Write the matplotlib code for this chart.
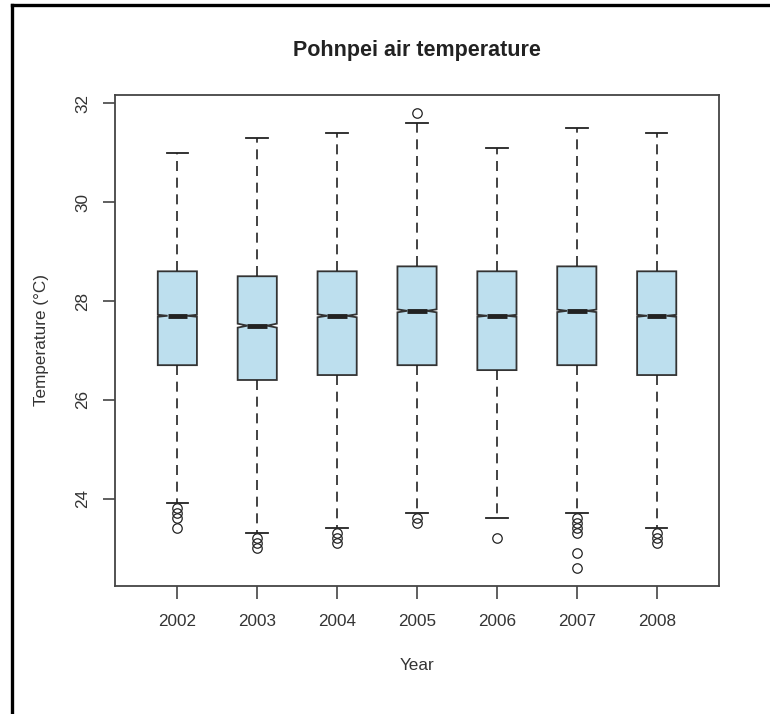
import matplotlib
matplotlib.use("Agg")
import matplotlib.pyplot as plt
from matplotlib.lines import Line2D

years = ["2002", "2003", "2004", "2005", "2006", "2007", "2008"]
q1 = [26.7, 26.4, 26.5, 26.7, 26.6, 26.7, 26.5]
medians = [27.7, 27.5, 27.7, 27.8, 27.7, 27.8, 27.7]
q3 = [28.6, 28.5, 28.6, 28.7, 28.6, 28.7, 28.6]
whisk_lo = [23.9, 23.3, 23.4, 23.7, 23.6, 23.7, 23.4]
whisk_hi = [31.0, 31.3, 31.4, 31.6, 31.1, 31.5, 31.4]
notch_half = [0.02, 0.04, 0.03, 0.03, 0.02, 0.025, 0.02]
outliers = [
    [23.8, 23.7, 23.6, 23.4],
    [23.2, 23.1, 23.0],
    [23.3, 23.2, 23.1],
    [31.8, 23.6, 23.5],
    [23.2],
    [23.6, 23.5, 23.4, 23.3, 22.9, 22.6],
    [23.3, 23.2, 23.1],
]

plt.rcParams['font.family'] = ['Liberation Sans', 'DejaVu Sans']

fig = plt.figure(figsize=(7.7, 7.14), dpi=100)
ax = fig.add_axes([0.1494, 0.1793, 0.7844, 0.6877])

stats = []
for i in range(len(years)):
    stats.append(dict(med=medians[i], q1=q1[i], q3=q3[i],
                      whislo=whisk_lo[i], whishi=whisk_hi[i],
                      cilo=medians[i] - notch_half[i], cihi=medians[i] + notch_half[i],
                      fliers=outliers[i], label=years[i]))

edge = '#333333'
positions = list(range(1, len(years) + 1))
ax.bxp(stats, positions=positions, widths=0.49, shownotches=True, patch_artist=True,
       capwidths=0.27,
       boxprops=dict(facecolor='#BDDFEE', edgecolor=edge, linewidth=1.3),
       medianprops=dict(color='#222222', linewidth=3.5, solid_capstyle='butt'),
       whiskerprops=dict(color='#222222', linewidth=1.2, linestyle=(0, (6, 4))),
       capprops=dict(color='#222222', linewidth=1.3),
       flierprops=dict(marker='o', markerfacecolor='none', markeredgecolor='#222222',
                       markersize=6.8, markeredgewidth=0.9))

ax.set_xlim(0.22, 7.78)
ax.set_ylim(22.23, 32.17)
ax.set_yticks([24, 26, 28, 30, 32])
ax.set_yticklabels(['24', '26', '28', '30', '32'], rotation=90, va='center')
ax.set_xticks(positions)
ax.set_xticklabels(years)
for s in ax.spines.values():
    s.set_color('#444444')
    s.set_linewidth(1.3)
ax.tick_params(axis='both', direction='out', length=9, width=1.2, color='#444444',
               labelsize=12.3, labelcolor='#333333')
ax.tick_params(axis='x', pad=11)
ax.tick_params(axis='y', pad=9)

ax.set_title('Pohnpei air temperature', fontsize=15.5, fontweight='bold', color='#222222', pad=28)
ax.set_xlabel('Year', fontsize=12.3, color='#333333', labelpad=21)
ax.set_ylabel('Temperature (°C)', fontsize=12.3, color='#333333', labelpad=19)

fig.add_artist(Line2D([11.5 / 770, 11.5 / 770], [0, 1 - 4.5 / 714], transform=fig.transFigure,
                      color='black', linewidth=2.4))
fig.add_artist(Line2D([11.5 / 770, 1], [1 - 5 / 714, 1 - 5 / 714], transform=fig.transFigure,
                      color='black', linewidth=2.4))

fig.savefig('out.png', dpi=100)
